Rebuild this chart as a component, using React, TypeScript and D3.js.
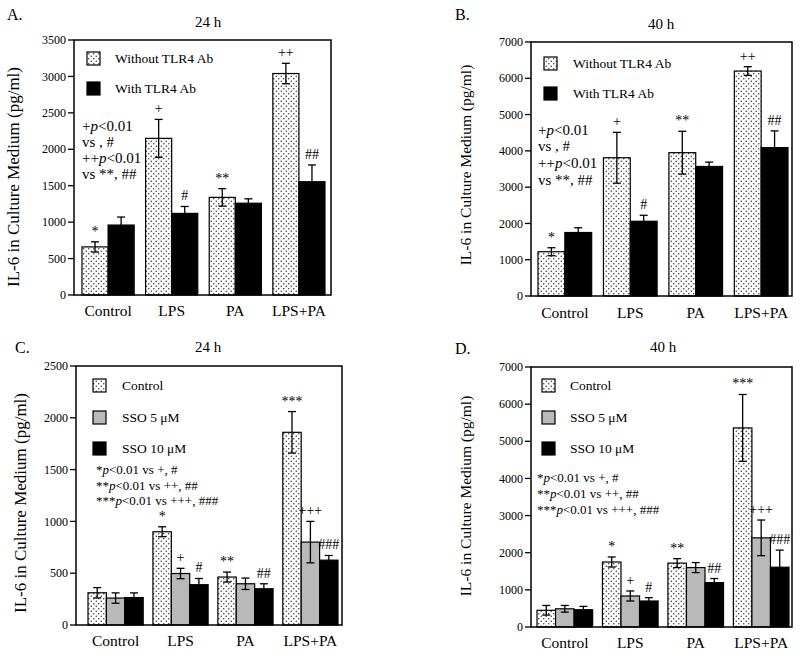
import React from "react";
import * as d3 from "d3";

// ---------- DATA ----------
const categories = ["Control", "LPS", "PA", "LPS+PA"];
const seriesAB = ["Without TLR4 Ab", "With TLR4 Ab"];
const seriesCD = ["Control", "SSO 5 \u03bcM", "SSO 10 \u03bcM"];

const aWithout = [660, 2150, 1340, 3040];
const aWithoutErr = [70, 260, 120, 140];
const aWith = [960, 1120, 1260, 1555];
const aWithErr = [110, 95, 60, 230];

const bWithout = [1220, 3810, 3950, 6200];
const bWithoutErr = [110, 700, 590, 120];
const bWith = [1750, 2060, 3570, 4090];
const bWithErr = [130, 165, 120, 460];

const cCtrl = [311, 900, 463, 1860];
const cCtrlErr = [50, 48, 48, 200];
const cSso5 = [260, 497, 398, 800];
const cSso5Err = [50, 50, 55, 200];
const cSso10 = [265, 389, 350, 626];
const cSso10Err = [45, 60, 48, 45];

const dCtrl = [450, 1750, 1720, 5360];
const dCtrlErr = [130, 135, 120, 900];
const dSso5 = [490, 835, 1600, 2400];
const dSso5Err = [90, 135, 135, 480];
const dSso10 = [465, 700, 1195, 1610];
const dSso10Err = [90, 90, 110, 460];

const marksAB = [
  ["*", "+", "**", "++"],
  ["", "#", "", "##"],
];
const marksCD = [
  ["", "*", "**", "***"],
  ["", "+", "", "+++"],
  ["", "#", "##", "###"],
];

const ticksA = [0, 500, 1000, 1500, 2000, 2500, 3000, 3500];
const ticksB = [0, 1000, 2000, 3000, 4000, 5000, 6000, 7000];
const ticksC = [0, 500, 1000, 1500, 2000, 2500];
const ticksD = [0, 1000, 2000, 3000, 4000, 5000, 6000, 7000];

const statsAB = ["+p<0.01", "vs , #", "++p<0.01", "vs **, ##"];
const statsCD = ["*p<0.01 vs +, #", "**p<0.01 vs ++, ##", "***p<0.01 vs +++, ###"];

const yLabel = "IL-6 in Culture Medium (pg/ml)";

// ---------- LAYOUT ----------
const FONT = "'Liberation Serif', 'Times New Roman', serif";
const fills = ["url(#dots)", "#000", "#000"];
const fillsCD = ["url(#dots)", "#b9b9b9", "#000"];

type PanelCfg = {
  letter: string; letterX: number; letterY: number;
  title: string; titleX: number; titleY: number;
  left: number; right: number; top: number; bottom: number;
  xr: [number, number]; pin: number; yMax: number; ticks: number[];
  series: string[]; values: number[][]; errs: number[][]; marks: string[][];
  fills: string[];
  catY: number;
  yLabX: number; yLabY: number; yLabSize: number;
  legX: number; legY: number[]; legTextX: number;
  stats: string[]; statsX: number; statsY: number[]; statsSize: number;
};

function StatLine({ s, x, y, size }: { s: string; x: number; y: number; size: number }) {
  const i = s.indexOf("p<");
  if (i < 0) {
    return <text x={x} y={y} fontSize={size} fontFamily={FONT}>{s}</text>;
  }
  return (
    <text x={x} y={y} fontSize={size} fontFamily={FONT}>
      <tspan>{s.slice(0, i)}</tspan>
      <tspan fontStyle="italic">p</tspan>
      <tspan>{s.slice(i + 1)}</tspan>
    </text>
  );
}

function Panel({ c }: { c: PanelCfg }) {
  const y = d3.scaleLinear().domain([0, c.yMax]).range([c.bottom, c.top]);
  const x0 = d3.scaleBand<string>().domain(categories).range(c.xr).paddingInner(c.pin).paddingOuter(0);
  const x1 = d3.scaleBand<string>().domain(c.series).range([0, x0.bandwidth()]).padding(0);
  const bw = x1.bandwidth();
  const cap = 4;
  return (
    <g>
      <text x={c.letterX} y={c.letterY} fontSize={16} fontFamily={FONT}>{c.letter}</text>
      <text x={c.titleX} y={c.titleY} fontSize={15} fontFamily={FONT} textAnchor="middle">{c.title}</text>
      <text
        transform={`translate(${c.yLabX},${c.yLabY}) rotate(-90)`}
        fontSize={c.yLabSize}
        fontFamily={FONT}
        textAnchor="middle"
        dominantBaseline="middle"
      >{yLabel}</text>
      {/* bars */}
      {categories.map((cat, gi) =>
        c.series.map((s, si) => {
          const v = c.values[si][gi];
          const bx = (x0(cat) as number) + (x1(s) as number);
          return (
            <rect key={cat + s} x={bx} y={y(v)} width={bw} height={y(0) - y(v)}
              fill={c.fills[si]} stroke="#000" strokeWidth={1.2} />
          );
        })
      )}
      {/* error bars */}
      {categories.map((cat, gi) =>
        c.series.map((s, si) => {
          const v = c.values[si][gi];
          const e = c.errs[si][gi];
          const cx = (x0(cat) as number) + (x1(s) as number) + bw / 2;
          return (
            <g key={"e" + cat + s} stroke="#000" strokeWidth={1.3}>
              <line x1={cx} x2={cx} y1={y(v - e)} y2={y(v + e)} />
              <line x1={cx - cap} x2={cx + cap} y1={y(v + e)} y2={y(v + e)} />
              <line x1={cx - cap} x2={cx + cap} y1={y(v - e)} y2={y(v - e)} />
            </g>
          );
        })
      )}
      {/* significance marks */}
      {categories.map((cat, gi) =>
        c.series.map((s, si) => {
          const m = c.marks[si][gi];
          if (!m) return null;
          const v = c.values[si][gi];
          const e = c.errs[si][gi];
          const cx = (x0(cat) as number) + (x1(s) as number) + bw / 2;
          return (
            <text key={"m" + cat + s} x={cx} y={y(v + e) - 6} fontSize={14} fontFamily={FONT}
              textAnchor="middle" fill="#000">{m}</text>
          );
        })
      )}
      {/* frame */}
      <rect x={c.left} y={c.top} width={c.right - c.left} height={c.bottom - c.top}
        fill="none" stroke="#000" strokeWidth={1.5} />
      {/* y ticks */}
      {c.ticks.map((t) => (
        <g key={"t" + t}>
          <line x1={c.left - 6} x2={c.left} y1={y(t)} y2={y(t)} stroke="#000" strokeWidth={1.3} />
          <text x={c.left - 8} y={y(t)} dy="0.35em" textAnchor="end" fontSize={12} fontFamily={FONT}>{t}</text>
        </g>
      ))}
      {/* category labels */}
      {categories.map((cat) => (
        <text key={"c" + cat} x={(x0(cat) as number) + x0.bandwidth() / 2} y={c.catY}
          textAnchor="middle" fontSize={15.5} fontFamily={FONT}>{cat}</text>
      ))}
      {/* legend */}
      {c.series.map((s, si) => (
        <g key={"l" + s}>
          <rect x={c.legX} y={c.legY[si]} width={13} height={13} fill={c.fills[si]} stroke="#000" strokeWidth={1.2} />
          <text x={c.legTextX} y={c.legY[si] + 11} fontSize={13.5} fontFamily={FONT}>{s}</text>
        </g>
      ))}
      {/* stats */}
      {c.stats.map((s, i) => (
        <StatLine key={"s" + i} s={s} x={c.statsX} y={c.statsY[i]} size={c.statsSize} />
      ))}
    </g>
  );
}

const panels: PanelCfg[] = [
  {
    letter: "A.", letterX: 7, letterY: 20, title: "24 h", titleX: 208, titleY: 27,
    left: 74, right: 331, top: 40, bottom: 295, xr: [82, 325], pin: 0.18, yMax: 3500, ticks: ticksA,
    series: seriesAB, values: [aWithout, aWith], errs: [aWithoutErr, aWithErr], marks: marksAB, fills,
    catY: 316, yLabX: 15, yLabY: 177, yLabSize: 17,
    legX: 87, legY: [52, 82], legTextX: 115,
    stats: statsAB, statsX: 82, statsY: [131, 147, 163, 179], statsSize: 15,
  },
  {
    letter: "B.", letterX: 455, letterY: 20, title: "40 h", titleX: 661, titleY: 29,
    left: 531, right: 792, top: 42, bottom: 296, xr: [538, 788], pin: 0.18, yMax: 7000, ticks: ticksB,
    series: seriesAB, values: [bWithout, bWith], errs: [bWithoutErr, bWithErr], marks: marksAB, fills,
    catY: 318, yLabX: 467, yLabY: 165, yLabSize: 15.5,
    legX: 544, legY: [57, 87], legTextX: 573,
    stats: statsAB, statsX: 538, statsY: [135, 151, 168, 185], statsSize: 15,
  },
  {
    letter: "C.", letterX: 15, letterY: 353, title: "24 h", titleX: 208, titleY: 352,
    left: 76, right: 342, top: 366, bottom: 625, xr: [88, 338], pin: 0.15, yMax: 2500, ticks: ticksC,
    series: seriesCD, values: [cCtrl, cSso5, cSso10], errs: [cCtrlErr, cSso5Err, cSso10Err], marks: marksCD,
    fills: fillsCD,
    catY: 646, yLabX: 22, yLabY: 503, yLabSize: 17,
    legX: 93, legY: [379, 411, 442], legTextX: 122,
    stats: statsCD, statsX: 96, statsY: [474, 490, 505], statsSize: 13,
  },
  {
    letter: "D.", letterX: 455, letterY: 354, title: "40 h", titleX: 663, titleY: 352,
    left: 531, right: 792, top: 367, bottom: 627, xr: [537, 789], pin: 0.15, yMax: 7000, ticks: ticksD,
    series: seriesCD, values: [dCtrl, dSso5, dSso10], errs: [dCtrlErr, dSso5Err, dSso10Err], marks: marksCD,
    fills: fillsCD,
    catY: 648, yLabX: 467, yLabY: 496, yLabSize: 15.5,
    legX: 542, legY: [379, 411, 442], legTextX: 570,
    stats: statsCD, statsX: 537, statsY: [482, 498, 514], statsSize: 13,
  },
];

export default function App() {
  return (
    <svg width={800} height={657} viewBox="0 0 800 657"
      style={{ position: "absolute", left: 0, top: 0, background: "#fff" }}>
      <defs>
        <pattern id="dots" width={5} height={5} patternUnits="userSpaceOnUse">
          <rect width={5} height={5} fill="#fff" />
          <circle cx={1.25} cy={1.25} r={0.75} fill="#333" />
          <circle cx={3.75} cy={3.75} r={0.75} fill="#333" />
        </pattern>
      </defs>
      <rect width={800} height={657} fill="#fff" />
      {panels.map((p) => (
        <Panel key={p.letter} c={p} />
      ))}
    </svg>
  );
}
